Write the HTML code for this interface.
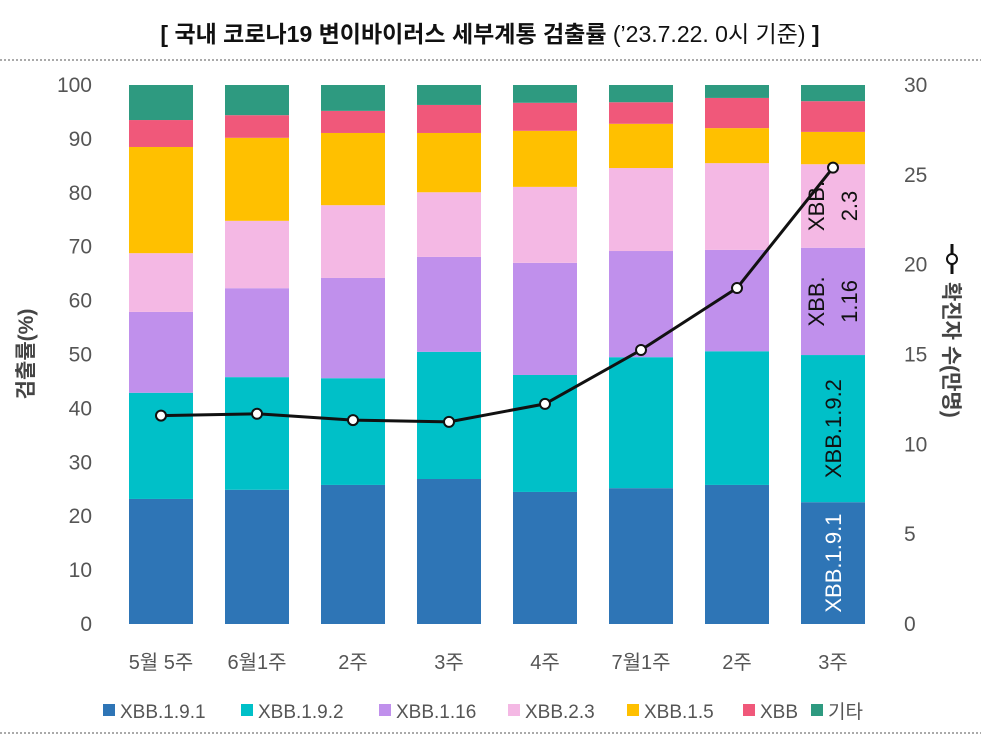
<!DOCTYPE html>
<html><head><meta charset="utf-8"><style>
body{margin:0;background:#fff;font-family:"Liberation Sans","Noto Sans CJK KR",sans-serif;}
svg text{font-family:"Liberation Sans","Noto Sans CJK KR",sans-serif;}
</style></head><body>
<svg id="c" width="981" height="735" xmlns="http://www.w3.org/2000/svg">
<text x="490" y="42" text-anchor="middle" font-size="23" font-weight="bold" fill="#111">[ 국내 코로나19 변이바이러스 세부계통 검출률 <tspan font-weight="normal">(’23.7.22. 0시 기준)</tspan> ]</text>
<line x1="0" y1="60" x2="981" y2="60" stroke="#555" stroke-dasharray="2,2"/>
<line x1="0" y1="733" x2="981" y2="733" stroke="#555" stroke-dasharray="2,2"/>
<g id="plot"></g>
<text transform="translate(33,354) rotate(-90)" text-anchor="middle" font-size="21" font-weight="bold" fill="#444">검출률(%)</text>
<g transform="translate(952,354) rotate(90)">
<line x1="-110" y1="0" x2="-80" y2="0" stroke="#111" stroke-width="3"/>
<circle cx="-95" cy="0" r="5" fill="#fff" stroke="#111" stroke-width="2"/>
<text x="-72" y="8" font-size="21" font-weight="bold" fill="#444">확진자 수(만명)</text>
</g>
</svg>
<script>
const categories=["5월 5주","6월1주","2주","3주","4주","7월1주","2주","3주"];
const seriesNames=["XBB.1.9.1","XBB.1.9.2","XBB.1.16","XBB.2.3","XBB.1.5","XBB","기타"];
const colors=["#2e75b6","#00c0c8","#c090ec","#f4b8e4","#ffc000","#f0587a","#2e9a80"];
const s1=[23.2,24.9,25.8,26.9,24.5,25.2,25.8,22.6];
const s2=[19.7,20.9,19.8,23.6,21.7,24.3,24.8,27.3];
const s3=[15.0,16.5,18.6,17.6,20.8,19.7,18.8,19.9];
const s4=[10.9,12.5,13.5,12.0,14.1,15.4,16.1,15.5];
const s5=[19.7,15.4,13.4,11.0,10.4,8.2,6.5,6.0];
const s6=[5.0,4.2,4.1,5.2,5.2,4.0,5.6,5.7];
const s7=[6.5,5.6,4.8,3.7,3.3,3.2,2.4,3.0];
const cases=[11.6,11.7,11.35,11.25,12.25,15.25,18.7,25.4];
const leftTicks=[0,10,20,30,40,50,60,70,80,90,100];
const rightTicks=[0,5,10,15,20,25,30];
const series=[s1,s2,s3,s4,s5,s6,s7];
const NS="http://www.w3.org/2000/svg";
const g=document.getElementById('plot');
const y0=624,y1=85,x0=113,bw=96;
const yL=v=>y0-(v/100)*(y0-y1);
const yR=v=>y0-(v/30)*(y0-y1);
const xC=i=>x0+bw*(i+0.5);
function mk(t,a){const e=document.createElementNS(NS,t);for(const k in a)e.setAttribute(k,a[k]);g.appendChild(e);return e;}
leftTicks.forEach(t=>{const e=mk('text',{x:92,y:yL(t)+7,'text-anchor':'end','font-size':21,fill:'#555'});e.textContent=t;

});
rightTicks.forEach(t=>{const e=mk('text',{x:904,y:yR(t)+7,'font-size':21,fill:'#555'});e.textContent=t;

});
categories.forEach((c,i)=>{let acc=0;
series.forEach((s,k)=>{const v=s[i];const r=mk('rect',{x:xC(i)-32,y:yL(acc+v),width:64,height:yL(acc)-yL(acc+v),fill:colors[k]});

acc+=v;});
const t=mk('text',{x:xC(i),y:669,'text-anchor':'middle','font-size':20,fill:'#555'});t.textContent=c;

});
const li=categories.length-1;let acc=0;
const inner=[["XBB.1.9.1",null,"#fff"],["XBB.1.9.2",null,"#111"],["XBB.","1.16","#111"],["XBB.","2.3","#111"]];
inner.forEach((l,k)=>{const mid=yL(acc+series[k][li]/2);acc+=series[k][li];
if(l[1]===null){const e=mk('text',{transform:`translate(${xC(li)+8},${mid}) rotate(-90)`,'text-anchor':'middle','font-size':22,fill:l[2]});e.textContent=l[0];

}
else{const e=mk('text',{transform:`translate(${xC(li)-9},${mid}) rotate(-90)`,'text-anchor':'middle','font-size':22,fill:l[2]});e.textContent=l[0];


const e2=mk('text',{transform:`translate(${xC(li)+24},${mid}) rotate(-90)`,'text-anchor':'middle','font-size':22,fill:l[2]});e2.textContent=l[1];

}});
const pl=mk('polyline',{points:cases.map((v,i)=>xC(i)+','+yR(v)).join(' '),fill:'none',stroke:'#111','stroke-width':3});


cases.forEach((v,i)=>{const c=mk('circle',{cx:xC(i),cy:yR(v),r:5,fill:'#fff',stroke:'#111','stroke-width':2});

});
const lx=[103,241,379,508,627,743,811];
seriesNames.forEach((n,k)=>{const r=mk('rect',{x:lx[k],y:704,width:12,height:12,fill:colors[k]});


const t=mk('text',{x:lx[k]+17,y:718,'font-size':19,fill:'#555'});t.textContent=n;

});
</script>
</body></html>
